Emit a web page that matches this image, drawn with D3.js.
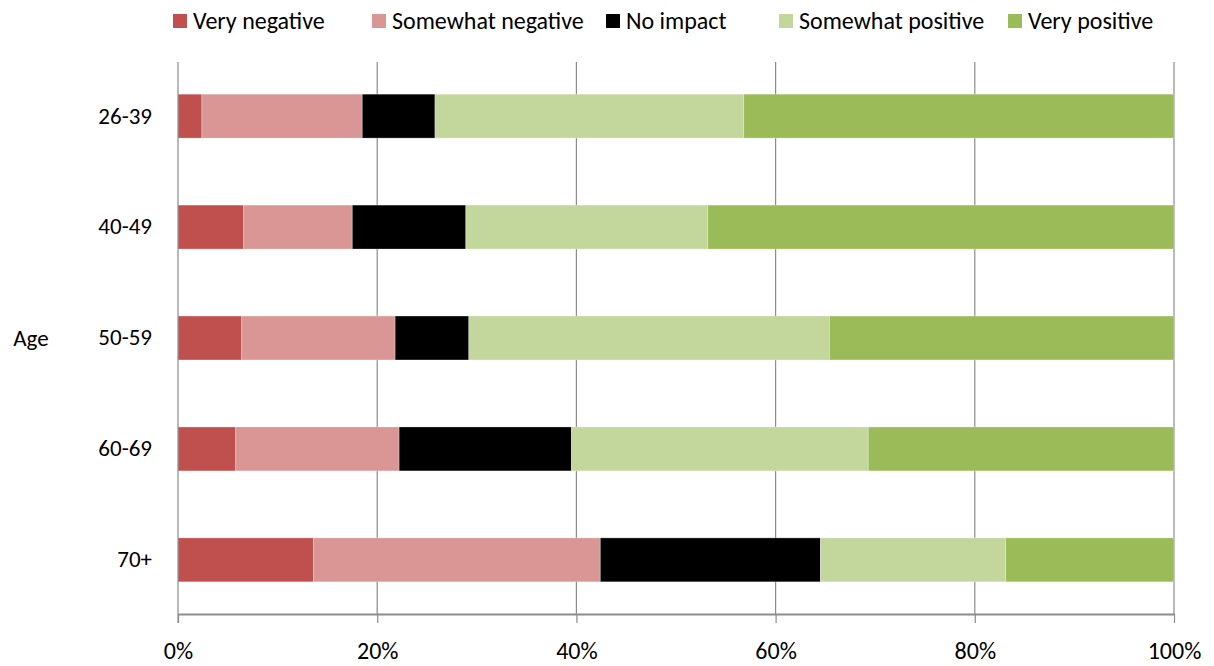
<!DOCTYPE html>
<html>
<head>
<meta charset="utf-8">
<script src="https://cdn.jsdelivr.net/npm/d3@7"></script>
<style>
  body { margin: 0; background: #fff; }
  text { font-family: Carlito, Lato, "Liberation Sans", sans-serif; fill: #000; }
</style>
</head>
<body>
<svg width="1214" height="666"></svg>
<script>
// data (percent of respondents)
var ageGroups = ["26-39", "40-49", "50-59", "60-69", "70+"];
var seriesNames = ["Very negative", "Somewhat negative", "No impact", "Somewhat positive", "Very positive"];
var veryNegative     = [2.4, 6.6, 6.4, 5.8, 13.6];
var somewhatNegative = [16.1, 10.9, 15.4, 16.4, 28.8];
var noImpact         = [7.3, 11.4, 7.4, 17.3, 22.1];
var somewhatPositive = [31.0, 24.3, 36.2, 29.8, 18.6];
var veryPositive     = [43.2, 46.8, 34.6, 30.7, 16.9];
var tickValues = [0, 0.2, 0.4, 0.6, 0.8, 1];

var colors = ["#c0504d", "#d99694", "#000000", "#c3d69b", "#9bbb59"];
var legendX = [173, 372, 606, 779, 1008];

var svg = d3.select("svg"),
    plotLeft = 178, plotRight = 1174, plotTop = 62, plotBottom = 614;

var rows = ageGroups.map(function (a, i) {
  var r = { age: a };
  r[seriesNames[0]] = veryNegative[i];
  r[seriesNames[1]] = somewhatNegative[i];
  r[seriesNames[2]] = noImpact[i];
  r[seriesNames[3]] = somewhatPositive[i];
  r[seriesNames[4]] = veryPositive[i];
  return r;
});

var stack = d3.stack().keys(seriesNames).offset(d3.stackOffsetExpand);
var layers = stack(rows);

var x = d3.scaleLinear().domain([0, 1]).range([plotLeft, plotRight]);
var y = d3.scaleBand().domain(ageGroups).range([plotTop, plotBottom]).paddingInner(0.604).paddingOuter(0.29);

// gridlines
svg.append("g").selectAll("line")
  .data(tickValues.slice(1))
  .enter().append("line")
  .attr("x1", function (d) { return x(d); })
  .attr("x2", function (d) { return x(d); })
  .attr("y1", plotTop).attr("y2", plotBottom)
  .attr("stroke", "#8c8c8c").attr("stroke-width", 1.2);

// bars
svg.append("g").selectAll("g")
  .data(layers)
  .enter().append("g")
  .attr("fill", function (d, i) { return colors[i]; })
  .selectAll("rect")
  .data(function (d) { return d; })
  .enter().append("rect")
  .attr("x", function (d) { return x(d[0]); })
  .attr("width", function (d) { return x(d[1]) - x(d[0]); })
  .attr("y", function (d) { return y(d.data.age); })
  .attr("height", y.bandwidth())
  .attr("stroke", "#fff").attr("stroke-opacity", 0.35).attr("stroke-width", 0.8);

// x axis
var xAxis = svg.append("g")
  .attr("transform", "translate(0," + plotBottom + ")")
  .call(d3.axisBottom(x).tickValues(tickValues).tickFormat(d3.format(".0%")).tickSizeInner(9).tickSizeOuter(0).tickPadding(19));
xAxis.select(".domain").attr("stroke", "#8c8c8c").attr("stroke-width", 2);
xAxis.selectAll(".tick line").attr("stroke", "#8c8c8c").attr("stroke-width", 1.2);
xAxis.selectAll(".tick text").attr("font-size", 24).attr("font-family", null);

// y axis
var yAxis = svg.append("g")
  .attr("transform", "translate(" + plotLeft + ",0)")
  .call(d3.axisLeft(y).tickSize(0).tickPadding(26));
yAxis.select(".domain").attr("stroke", "#8c8c8c").attr("stroke-width", 1.2).attr("d", "M0," + plotTop + "V" + (plotBottom + 9));
yAxis.selectAll(".tick text").attr("font-size", 23).attr("font-family", null);

// axis title
svg.append("text")
  .attr("x", 31).attr("y", y("50-59") + y.bandwidth() / 2)
  .attr("dy", "0.35em").attr("text-anchor", "middle")
  .attr("font-size", 23)
  .text("Age");

// legend
var legend = svg.append("g").attr("transform", "translate(0,21)");
seriesNames.forEach(function (name, i) {
  legend.append("rect")
    .attr("x", legendX[i]).attr("y", -7).attr("width", 14).attr("height", 14)
    .attr("fill", colors[i]);
  legend.append("text")
    .attr("x", legendX[i] + 20).attr("dy", "0.35em")
    .attr("font-size", 24)
    .text(name);
});
</script>
</body>
</html>
